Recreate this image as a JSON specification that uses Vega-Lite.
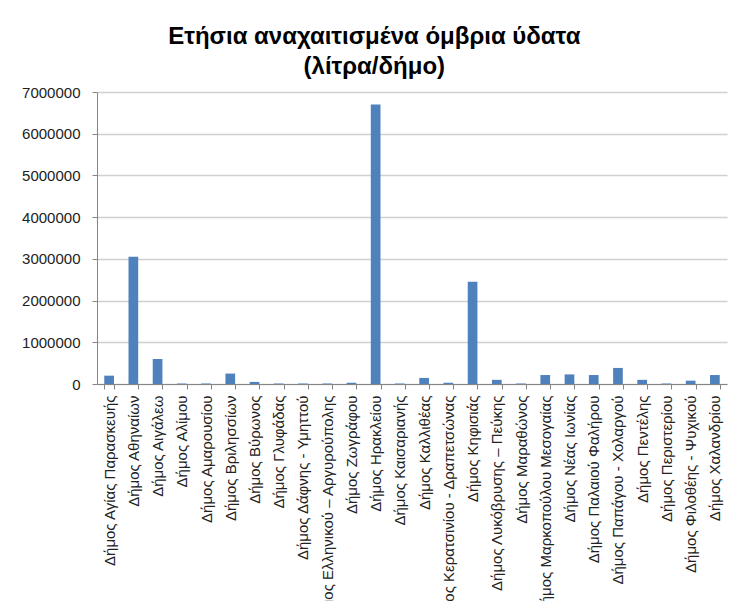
{
  "$schema": "https://vega.github.io/schema/vega-lite/v6.json",
  "autosize": {"type": "none"},
  "padding": {"left": 97, "top": 92, "right": 7, "bottom": 217},
  "width": 630,
  "height": 292,
  "background": "white",
  "title": {
    "text": ["Ετήσια αναχαιτισμένα όμβρια ύδατα", "(λίτρα/δήμο)"],
    "anchor": "middle",
    "frame": "bounds",
    "font": "Liberation Sans",
    "fontSize": 24,
    "fontWeight": "bold",
    "lineHeight": 30,
    "color": "#000000",
    "offset": 6
  },
  "data": {
    "values": [
      {"dimos": "Δήμος Αγίας Παρασκευής", "litra": 200000},
      {"dimos": "Δήμος Αθηναίων", "litra": 3050000},
      {"dimos": "Δήμος Αιγάλεω", "litra": 600000},
      {"dimos": "Δήμος Αλίμου", "litra": 12000},
      {"dimos": "Δήμος Αμαρουσίου", "litra": 12000},
      {"dimos": "Δήμος Βριλησσίων", "litra": 250000},
      {"dimos": "Δήμος Βύρωνος", "litra": 50000},
      {"dimos": "Δήμος Γλυφάδας", "litra": 12000},
      {"dimos": "Δήμος Δάφνης - Υμηττού", "litra": 12000},
      {"dimos": "Δήμος Ελληνικού – Αργυρούπολης", "litra": 12000},
      {"dimos": "Δήμος Ζωγράφου", "litra": 30000},
      {"dimos": "Δήμος Ηρακλείου", "litra": 6700000},
      {"dimos": "Δήμος Καισαριανής", "litra": 12000},
      {"dimos": "Δήμος Καλλιθέας", "litra": 145000},
      {"dimos": "Δήμος Κερατσινίου - Δραπετσώνας", "litra": 30000},
      {"dimos": "Δήμος Κηφισιάς", "litra": 2450000},
      {"dimos": "Δήμος Λυκόβρυσης – Πεύκης", "litra": 100000},
      {"dimos": "Δήμος Μαραθώνος", "litra": 12000},
      {"dimos": "Δήμος Μαρκοπούλου Μεσογαίας", "litra": 215000},
      {"dimos": "Δήμος Νέας Ιωνίας", "litra": 230000},
      {"dimos": "Δήμος Παλαιού Φαλήρου", "litra": 215000},
      {"dimos": "Δήμος Παπάγου - Χολαργού", "litra": 385000},
      {"dimos": "Δήμος Πεντέλης", "litra": 100000},
      {"dimos": "Δήμος Περιστερίου", "litra": 12000},
      {"dimos": "Δήμος Φιλοθέης - Ψυχικού", "litra": 80000},
      {"dimos": "Δήμος Χαλανδρίου", "litra": 215000}
    ]
  },
  "mark": {"type": "bar", "color": "#4f81bd"},
  "encoding": {
    "x": {
      "field": "dimos",
      "type": "nominal",
      "sort": null,
      "scale": {"paddingInner": 0.6, "paddingOuter": 0.3},
      "axis": {
        "title": null,
        "labelAngle": -90,
        "labelAlign": "right",
        "labelBaseline": "middle",
        "labelFont": "Liberation Sans",
        "labelFontSize": 15,
        "labelColor": "#222222",
        "labelLimit": 400,
        "labelPadding": 6,
        "tickBand": "extent",
        "tickSize": 5,
        "tickColor": "#868686",
        "domainColor": "#868686",
        "grid": false
      }
    },
    "y": {
      "field": "litra",
      "type": "quantitative",
      "scale": {"domain": [0, 7000000], "nice": false},
      "axis": {
        "title": null,
        "values": [0, 1000000, 2000000, 3000000, 4000000, 5000000, 6000000, 7000000],
        "format": "d",
        "labelFont": "Liberation Sans",
        "labelFontSize": 15,
        "labelColor": "#222222",
        "labelPadding": 12,
        "tickSize": 5,
        "tickColor": "#868686",
        "domainColor": "#868686",
        "gridColor": "#d0d0d0",
        "gridWidth": 1.3
      }
    }
  },
  "config": {"view": {"stroke": null}}
}
